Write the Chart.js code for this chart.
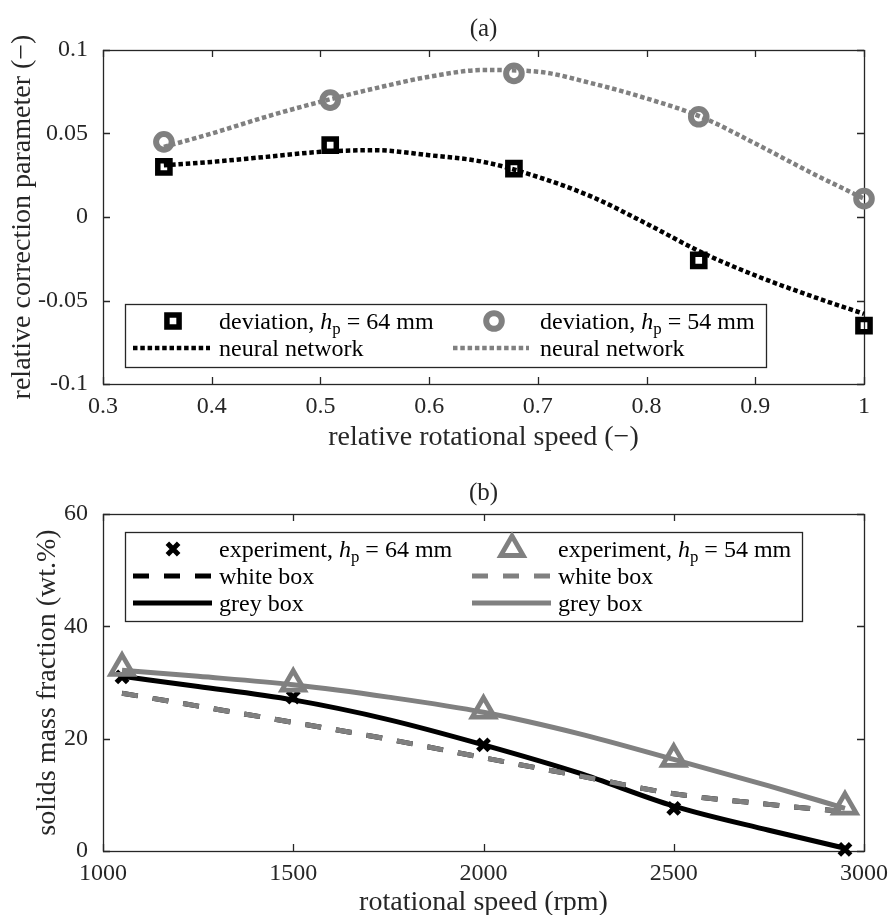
<!DOCTYPE html>
<html>
<head>
<meta charset="utf-8">
<script src="https://cdn.jsdelivr.net/npm/chart.js@4.4.1/dist/chart.umd.min.js"></script>
<style>
  html, body { margin: 0; padding: 0; background: #fff; overflow: hidden; }
  #wrapA { position: absolute; left: 0; top: 0; width: 889px; height: 454px; }
  #wrapB { position: absolute; left: 0; top: 450px; width: 889px; height: 469px; }
</style>
</head>
<body>
<div id="wrapA"><canvas id="chartA"></canvas></div>
<div id="wrapB"><canvas id="chartB"></canvas></div>
<script>
'use strict';

// ---- panel (a): relative correction parameter ----
let relSpeed = [0.356, 0.509, 0.678, 0.848, 1.0];
let dev64 = [0.030, 0.043, 0.029, -0.026, -0.065];
let dev54 = [0.045, 0.070, 0.086, 0.060, 0.011];
let nnSpeed = [0.356, 0.4, 0.45, 0.5, 0.55, 0.6, 0.65, 0.7, 0.75, 0.8, 0.85, 0.9, 0.95, 1.0];
let nn64 = [0.031, 0.033, 0.036, 0.039, 0.040, 0.037, 0.033, 0.024, 0.012, -0.004, -0.021, -0.035, -0.047, -0.058];
let nn54 = [0.042, 0.050, 0.060, 0.069, 0.077, 0.084, 0.088, 0.087, 0.080, 0.071, 0.060, 0.044, 0.027, 0.011];
let xTicksA = [0.3, 0.4, 0.5, 0.6, 0.7, 0.8, 0.9, 1.0];
let xLabelsA = ['0.3', '0.4', '0.5', '0.6', '0.7', '0.8', '0.9', '1'];
let yTicksA = [-0.1, -0.05, 0, 0.05, 0.1];
let yLabelsA = ['-0.1', '-0.05', '0', '0.05', '0.1'];

// ---- panel (b): solids mass fraction ----
let rpm = [1050, 1500, 2000, 2500, 2950];
let exp64 = [31.0, 27.4, 18.9, 7.6, 0.3];
let exp54 = [32.6, 29.8, 25.0, 16.4, 7.9];
let modelRpm = [1050, 1250, 1500, 1750, 2000, 2250, 2500, 2750, 2950];
let white64 = [28.1, 25.8, 22.9, 19.9, 16.6, 13.4, 10.2, 8.3, 7.0];
let white54 = [28.1, 25.8, 22.9, 19.9, 16.6, 13.4, 10.2, 8.3, 7.0];
let grey64 = [31.1, 29.3, 26.9, 23.4, 18.9, 13.9, 8.0, 3.7, 0.5];
let grey54 = [32.2, 31.1, 29.6, 27.4, 24.7, 20.9, 16.3, 11.6, 7.6];
let xTicksB = [1000, 1500, 2000, 2500, 3000];
let xLabelsB = ['1000', '1500', '2000', '2500', '3000'];
let yTicksB = [0, 20, 40, 60];
let yLabelsB = ['0', '20', '40', '60'];

const FONT = "'Liberation Serif', 'Times New Roman', serif";
const INK = '#262626';
const GREY = '#808080';

Chart.defaults.font.family = FONT;
Chart.defaults.color = INK;

function pts(xs, ys) {
  return xs.map((x, i) => ({x: x, y: ys[i]}));
}

function markerSet(label, xs, ys, color, style, radius, width, order) {
  return {
    label: label, data: pts(xs, ys), showLine: false, order: order, clip: false,
    borderColor: color, backgroundColor: 'rgba(0,0,0,0)',
    pointStyle: style, pointRadius: radius, pointHoverRadius: radius,
    pointBorderWidth: width, pointBorderColor: color, pointBackgroundColor: 'rgba(0,0,0,0)'
  };
}

function lineSet(label, xs, ys, color, dash, width, order) {
  return {
    label: label, data: pts(xs, ys), order: order, clip: false,
    borderColor: color, borderWidth: width, borderDash: dash, borderCapStyle: 'butt',
    pointRadius: 0, pointHoverRadius: 0, cubicInterpolationMode: 'monotone', fill: false
  };
}

function axes(o) {
  return {
    x: {
      type: 'linear', min: o.xTicks[0], max: o.xTicks[o.xTicks.length - 1],
      grid: {display: false}, border: {display: false},
      afterBuildTicks: s => { s.ticks = o.xTicks.map(v => ({value: v})); },
      afterFit: s => { s.height = o.xHeight; },
      ticks: {padding: 0, maxRotation: 0, autoSkip: false, font: {size: 24}, color: INK,
        callback: (v, i) => o.xLabels[i]},
      title: {display: true, text: o.xTitle, font: {size: 28}, color: INK, padding: {top: 0, bottom: 0}}
    },
    y: {
      type: 'linear', min: o.yTicks[0], max: o.yTicks[o.yTicks.length - 1],
      grid: {display: false}, border: {display: false},
      afterBuildTicks: s => { s.ticks = o.yTicks.map(v => ({value: v})); },
      afterFit: s => { s.width = 103; },
      ticks: {padding: 7, autoSkip: false, font: {size: 24}, color: INK,
        callback: (v, i) => o.yLabels[i]},
      title: {display: true, text: o.yTitle, font: {size: 28}, color: INK, padding: {top: o.yTitlePad, bottom: 0}}
    }
  };
}

// axes box with inward ticks on all four sides
const framePlugin = {
  id: 'frame',
  beforeDatasetsDraw(chart) {
    const {ctx, chartArea: a, scales: {x, y}} = chart;
    const tl = 7;
    ctx.save();
    ctx.strokeStyle = INK;
    ctx.lineWidth = 1.3;
    ctx.setLineDash([]);
    ctx.strokeRect(a.left + 0.5, a.top + 0.5, a.right - a.left, a.bottom - a.top);
    ctx.beginPath();
    x.ticks.forEach(t => {
      const p = Math.round(x.getPixelForValue(t.value)) + 0.5;
      ctx.moveTo(p, a.bottom); ctx.lineTo(p, a.bottom - tl);
      ctx.moveTo(p, a.top); ctx.lineTo(p, a.top + tl);
    });
    y.ticks.forEach(t => {
      const p = Math.round(y.getPixelForValue(t.value)) + 0.5;
      ctx.moveTo(a.left, p); ctx.lineTo(a.left + tl, p);
      ctx.moveTo(a.right, p); ctx.lineTo(a.right - tl, p);
    });
    ctx.stroke();
    ctx.restore();
  }
};

function drawRich(ctx, x, y, parts, size) {
  let cx = x;
  parts.forEach(p => {
    const fs = p.sub ? size * 0.7 : size;
    ctx.font = (p.it ? 'italic ' : '') + fs + 'px ' + FONT;
    ctx.fillText(p.t, cx, y + (p.sub ? size * 0.22 : 0));
    cx += ctx.measureText(p.t).width;
  });
}

// legend box inside the axes, two columns, marker or line swatch
const boxLegend = {
  id: 'boxLegend',
  afterDatasetsDraw(chart, args, opts) {
    const {ctx, chartArea: a} = chart;
    const b = opts.box;
    ctx.save();
    ctx.fillStyle = '#fff';
    ctx.fillRect(a.left + b.dx, a.top + b.dy, b.w, b.h);
    ctx.strokeStyle = INK;
    ctx.lineWidth = 1.3;
    ctx.setLineDash([]);
    ctx.strokeRect(a.left + b.dx + 0.5, a.top + b.dy + 0.5, b.w, b.h);
    opts.entries.forEach(e => {
      const ds = chart.data.datasets.find(d => d.label === e.ds);
      const col = opts.cols[e.col];
      const yy = a.top + opts.rows[e.row];
      if (ds.showLine === false) {
        ctx.setLineDash([]);
        ctx.strokeStyle = ds.pointBorderColor;
        ctx.fillStyle = 'rgba(0,0,0,0)';
        ctx.lineWidth = ds.pointBorderWidth;
        Chart.helpers.drawPoint(ctx, {
          pointStyle: ds.pointStyle, rotation: 0,
          radius: ds.pointRadius, borderWidth: ds.pointBorderWidth
        }, a.left + col.mark, yy);
      } else {
        ctx.strokeStyle = ds.borderColor;
        ctx.lineWidth = ds.borderWidth;
        ctx.lineCap = 'butt';
        ctx.setLineDash(ds.borderDash || []);
        ctx.beginPath();
        ctx.moveTo(a.left + col.l0, yy);
        ctx.lineTo(a.left + col.l1, yy);
        ctx.stroke();
      }
      ctx.fillStyle = '#000';
      ctx.textBaseline = 'alphabetic';
      ctx.textAlign = 'left';
      drawRich(ctx, a.left + col.text, yy + 8, e.text, opts.size);
    });
    ctx.restore();
  }
};

function hp(pre, post) {
  return [{t: pre}, {t: 'h', it: true}, {t: 'p', sub: true}, {t: post}];
}

// ---- chart (a) ----
new Chart(document.getElementById('chartA'), {
  type: 'line',
  data: {
    datasets: [
      lineSet('nn54', nnSpeed, nn54, GREY, [4.5, 2.8], 4.5, 0),
      markerSet('dev54', relSpeed, dev54, GREY, 'circle', 7.8, 6, 1),
      lineSet('nn64', nnSpeed, nn64, '#000', [4.5, 2.8], 4.5, 2),
      markerSet('dev64', relSpeed, dev64, '#000', 'rect', 8.6, 5.5, 3)
    ]
  },
  options: {
    responsive: true, maintainAspectRatio: false, animation: false, devicePixelRatio: 1,
    layout: {padding: {left: 0, right: 25, top: 0, bottom: 0}},
    events: [],
    scales: axes({
      xTicks: xTicksA, xLabels: xLabelsA, yTicks: yTicksA, yLabels: yLabelsA,
      xTitle: 'relative rotational speed (\u2212)', yTitle: 'relative correction parameter (\u2212)',
      xHeight: 70, yTitlePad: 6
    }),
    plugins: {
      legend: {display: false},
      tooltip: {enabled: false},
      title: {display: true, text: '(a)', fullSize: false, color: INK,
        font: {size: 25, weight: 'normal'}, padding: {top: 14.5, bottom: 5.5}},
      boxLegend: {
        size: 24,
        box: {dx: 22, dy: 254, w: 641, h: 63},
        rows: [271, 298],
        cols: [{l0: 30, l1: 107, mark: 70, text: 116}, {l0: 350, l1: 426, mark: 391, text: 437}],
        entries: [
          {ds: 'dev64', col: 0, row: 0, text: hp('deviation, ', ' = 64 mm')},
          {ds: 'nn64', col: 0, row: 1, text: [{t: 'neural network'}]},
          {ds: 'dev54', col: 1, row: 0, text: hp('deviation, ', ' = 54 mm')},
          {ds: 'nn54', col: 1, row: 1, text: [{t: 'neural network'}]}
        ]
      }
    }
  },
  plugins: [framePlugin, boxLegend]
});

// ---- chart (b) ----
new Chart(document.getElementById('chartB'), {
  type: 'line',
  data: {
    datasets: [
      lineSet('grey54', modelRpm, grey54, GREY, [], 5, 0),
      lineSet('white54', modelRpm, white54, GREY, [16, 15], 5, 1),
      markerSet('exp54', rpm, exp54, GREY, 'triangle', 13, 4.8, 2),
      lineSet('grey64', modelRpm, grey64, '#000', [], 5, 3),
      lineSet('white64', modelRpm, white64, '#000', [16, 15], 5, 4),
      markerSet('exp64', rpm, exp64, '#000', 'crossRot', 8, 5, 5)
    ]
  },
  options: {
    responsive: true, maintainAspectRatio: false, animation: false, devicePixelRatio: 1,
    layout: {padding: {left: 0, right: 25, top: 0, bottom: 0}},
    events: [],
    scales: axes({
      xTicks: xTicksB, xLabels: xLabelsB, yTicks: yTicksB, yLabels: yLabelsB,
      xTitle: 'rotational speed (rpm)', yTitle: 'solids mass fraction (wt.%)',
      xHeight: 68, yTitlePad: 31
    }),
    plugins: {
      legend: {display: false},
      tooltip: {enabled: false},
      title: {display: true, text: '(b)', fullSize: false, color: INK,
        font: {size: 25, weight: 'normal'}, padding: {top: 28.3, bottom: 5.7}},
      boxLegend: {
        size: 24,
        box: {dx: 22, dy: 18, w: 677, h: 89},
        rows: [35, 62, 89],
        cols: [{l0: 30, l1: 109, mark: 70, text: 116}, {l0: 369, l1: 448, mark: 409, text: 455}],
        entries: [
          {ds: 'exp64', col: 0, row: 0, text: hp('experiment, ', ' = 64 mm')},
          {ds: 'white64', col: 0, row: 1, text: [{t: 'white box'}]},
          {ds: 'grey64', col: 0, row: 2, text: [{t: 'grey box'}]},
          {ds: 'exp54', col: 1, row: 0, text: hp('experiment, ', ' = 54 mm')},
          {ds: 'white54', col: 1, row: 1, text: [{t: 'white box'}]},
          {ds: 'grey54', col: 1, row: 2, text: [{t: 'grey box'}]}
        ]
      }
    }
  },
  plugins: [framePlugin, boxLegend]
});
</script>
</body>
</html>
